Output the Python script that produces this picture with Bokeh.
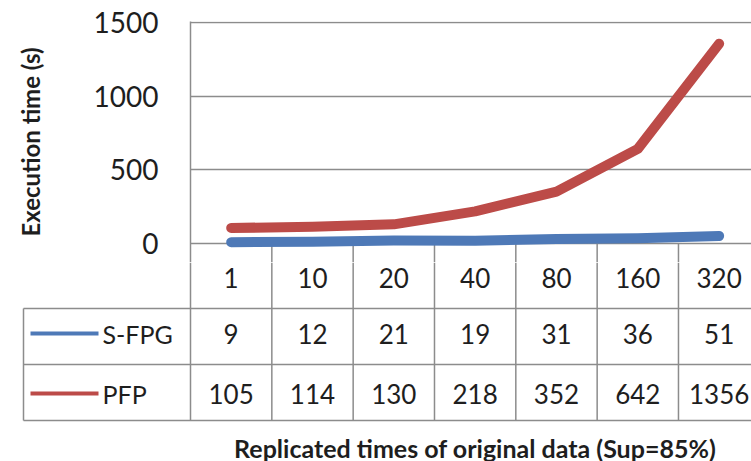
from bokeh.plotting import figure
from bokeh.layouts import column
from bokeh.models import Range1d, FixedTicker
from bokeh.core.properties import value
from bokeh.embed import file_html
from bokeh.resources import INLINE

# ---- data ----
categories = ["1", "10", "20", "40", "80", "160", "320"]
series_names = ["S-FPG", "PFP"]
sfpg = [9, 12, 21, 19, 31, 36, 51]
pfp = [105, 114, 130, 218, 352, 642, 1356]
y_ticks = [0, 500, 1000, 1500]
colors = ["#4E79B7", "#BC4B48"]
x_title = "Replicated times of original data (Sup=85%)"
y_title = "Execution time (s)"

# ---- layout constants ----
FONT = "Lato"
TXT = "#1e1e1e"
GRID = "#8c8c8c"
W, H = 751, 461
LEFT = 190          # left edge of plot area (px)
COL_W = 81.33       # width of one category column (px)
TOP_H = 262         # height of the chart part
ZERO_Y = 243        # page y of value 0
x_end = (W - LEFT) / COL_W
x_start = -LEFT / COL_W
xs = [i + 0.5 for i in range(len(categories))]
upp = 1500 / 221.0
y_lo = -(TOP_H - ZERO_Y) * upp

def px(xp):
    return (xp - LEFT) / COL_W

# ---- chart ----
top = figure(width=W, height=TOP_H, x_range=Range1d(0, x_end),
             y_range=Range1d(y_lo, 1500 + upp),
             output_backend="svg", toolbar_location=None,
             min_border_left=LEFT, min_border_right=0,
             min_border_top=21, min_border_bottom=0)
top.frame_align = False
top.xaxis.visible = False
top.xgrid.visible = False
top.outline_line_color = None
ax = top.yaxis[0]
ax.ticker = FixedTicker(ticks=y_ticks)
top.ygrid.ticker = FixedTicker(ticks=y_ticks)
top.ygrid.grid_line_color = GRID
top.ygrid.grid_line_width = 1.5
ax.axis_line_color = GRID
ax.axis_line_width = 1.5
ax.major_tick_line_color = None
ax.minor_tick_line_color = None
ax.major_tick_out = 0
ax.major_tick_in = 0
ax.major_label_standoff = 32
ax.major_label_text_font = FONT
ax.major_label_text_font_size = "28px"
ax.major_label_text_color = TXT
ax.axis_label = y_title
ax.axis_label_text_font = FONT
ax.axis_label_text_font_size = "24px"
ax.axis_label_text_font_style = "bold"
ax.axis_label_text_color = TXT
ax.axis_label_standoff = 46

# column separators of the table header row (upper part)
vx = list(range(1, len(categories)))
top.segment(x0=vx, y0=[0] * len(vx), x1=vx, y1=[y_lo] * len(vx),
            line_color=GRID, line_width=1.5)

for vals, c in zip([sfpg, pfp], colors):
    top.line(xs, vals, line_color=c, line_width=10,
             line_cap="round", line_join="round")

# ---- data table below ----
bot = figure(width=W, height=H - TOP_H, x_range=Range1d(x_start, x_end),
             y_range=Range1d(H, TOP_H),
             output_backend="svg", toolbar_location=None,
             x_axis_location=None, y_axis_location=None,
             min_border=0)
bot.frame_align = False
bot.grid.visible = False
bot.outline_line_color = None

header_y = 277
row_y = [333, 393]
h_lines = [308, 364, 420]
table_left = 23

# vertical lines
vx2 = list(range(len(categories)))
bot.segment(x0=vx2, y0=[TOP_H] * len(vx2), x1=vx2, y1=[h_lines[-1]] * len(vx2),
            line_color=GRID, line_width=1.5)
bot.segment(x0=[px(table_left)], y0=[h_lines[0]], x1=[px(table_left)],
            y1=[h_lines[-1]], line_color=GRID, line_width=1.5)
# horizontal lines
bot.segment(x0=[px(table_left)] * 3, y0=h_lines, x1=[x_end] * 3, y1=h_lines,
            line_color=GRID, line_width=1.5)

# header row (categories)
bot.text(xs, [header_y] * len(xs), text=categories,
         text_align="center", text_baseline="middle", text_font=value(FONT),
         text_font_size="26px", text_color=TXT)

for k, (vals, name, c) in enumerate(zip([sfpg, pfp], series_names, colors)):
    y = row_y[k]
    bot.text(xs, [y] * len(xs), text=[str(v) for v in vals],
             text_align="center", text_baseline="middle",
             text_font=value(FONT), text_font_size="26px", text_color=TXT)
    bot.segment(x0=[px(30)], y0=[y], x1=[px(98)], y1=[y],
                line_color=c, line_width=4)
    bot.text([px(102)], [y], text=[name], text_align="left",
             text_baseline="middle", text_font=value(FONT),
             text_font_size="25px", text_color=TXT)

bot.text([len(categories) / 2.0], [447], text=[x_title], text_align="center",
         text_baseline="middle", text_font=value(FONT),
         text_font_size="25px", text_font_style="bold", text_color=TXT)

layout = column(top, bot, spacing=0)
open("out.html", "w").write(file_html(layout, INLINE))
